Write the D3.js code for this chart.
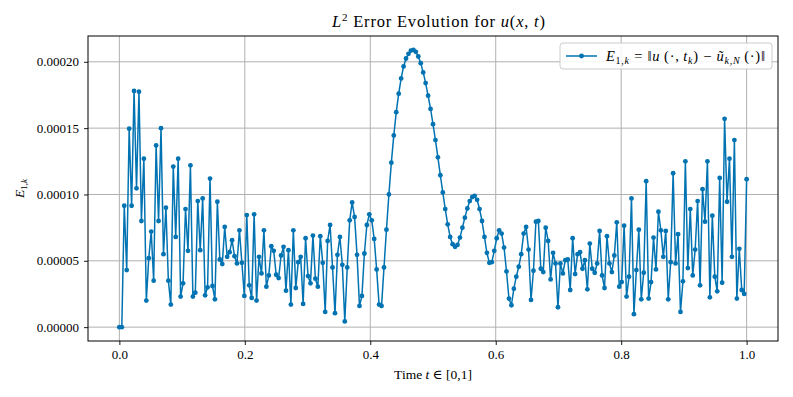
<!DOCTYPE html>
<html>
<head>
<meta charset="utf-8">
<script src="https://cdn.jsdelivr.net/npm/d3@7"></script>
<style>
  html, body { margin: 0; padding: 0; background: #fff; }
  svg text { font-family: "Liberation Serif", "DejaVu Serif", serif; fill: #000; }
</style>
</head>
<body>
<svg id="chart" width="793" height="397"></svg>
<script>
// ---- data (error values in units of 1e-5) ----
const errorE5 = [
  0, 0, 9.15, 4.3, 14.96, 9.15, 17.8, 10.46, 17.75, 8.0,
  12.7, 2.0, 5.2, 7.2, 3.5, 13.7, 8.0, 15.0, 5.5, 9.0,
  3.5, 1.7, 12.1, 6.8, 12.7, 2.3, 3.3, 8.9, 5.75, 12.2,
  2.3, 2.6, 9.5, 5.8, 9.7, 2.4, 3.0, 11.2, 3.1, 2.1,
  9.45, 5.1, 4.75, 7.55, 5.3, 5.65, 6.55, 5.35, 4.8, 7.3,
  4.85, 2.35, 8.45, 3.15, 2.2, 8.5, 2.0, 5.3, 4.05, 7.3,
  3.05, 3.9, 6.1, 5.75, 3.95, 3.7, 5.4, 6.05, 2.75, 5.8,
  1.7, 7.3, 2.95, 4.9, 5.3, 1.75, 6.7, 3.85, 3.3, 6.9,
  3.65, 3.05, 6.85, 4.85, 1.15, 6.5, 7.7, 4.5, 1.05, 5.45,
  6.8, 4.7, 0.43, 4.5, 8.05, 9.4, 8.3, 5.45, 1.6, 2.35,
  5.55, 7.7, 8.5, 8.05, 6.65, 4.35, 1.7, 1.6, 4.5, 7.35,
  10.0, 12.4, 14.45, 16.2, 17.6, 18.75, 19.65, 20.25, 20.6, 20.85,
  20.9, 20.75, 20.4, 19.9, 19.2, 18.4, 17.45, 16.45, 15.3, 14.1,
  12.8, 11.45, 10.15, 8.9, 7.75, 6.8, 6.25, 6.05, 6.2, 6.75,
  7.5, 8.25, 8.95, 9.5, 9.8, 9.9, 9.6, 8.9, 8.0, 6.8,
  5.6, 4.85, 4.9, 5.75, 6.7, 7.3, 7.05, 6.0, 4.2, 2.15,
  1.65, 2.9, 3.8, 4.55, 5.5, 7.05, 7.55, 5.85, 2.05, 4.25,
  7.95, 8.0, 4.4, 4.15, 7.5, 6.5, 3.6, 5.6, 4.8, 1.5,
  4.8, 4.05, 5.05, 5.1, 2.8, 6.7, 4.0, 5.5, 5.65, 4.4,
  5.05, 2.85, 6.3, 4.4, 4.1, 4.8, 7.25, 3.9, 2.95, 6.85,
  4.8, 4.15, 5.4, 7.9, 3.05, 3.4, 7.65, 2.3, 3.8, 9.7,
  0.98, 4.3, 7.35, 2.1, 4.1, 11.0, 2.15, 3.4, 6.75, 4.35,
  8.7, 7.3, 5.3, 7.25, 2.1, 4.9, 11.6, 4.8, 7.0, 1.15,
  3.45, 12.5, 4.45, 8.9, 3.9, 5.85, 9.5, 3.15, 10.4, 7.95,
  12.5, 2.25, 8.4, 3.8, 2.7, 11.25, 3.35, 15.7, 9.45, 12.7,
  5.3, 14.1, 2.15, 5.9, 2.8, 2.5, 11.15
];
const numSteps = 256;                 // t_k = k / 256, k = 0..256
const xTicks = [0.0, 0.2, 0.4, 0.6, 0.8, 1.0];
const xTickLabels = ["0.0", "0.2", "0.4", "0.6", "0.8", "1.0"];
const yTicks = [0, 0.00005, 0.0001, 0.00015, 0.0002];
const yTickLabels = ["0.00000", "0.00005", "0.00010", "0.00015", "0.00020"];

const points = errorE5.map((v, k) => ({ t: k / numSteps, e: v * 1e-5 }));

// ---- layout ----
const svg = d3.select("#chart");
const plot = { left: 88, right: 778, top: 36, bottom: 341 };
const color = "#0173b2";
const serif = '"Liberation Serif", "DejaVu Serif", serif';

const eMax = d3.max(points, d => d.e);
const yPad = eMax * 0.05;
const x = d3.scaleLinear().domain([-0.05, 1.05]).range([plot.left, plot.right]);
const y = d3.scaleLinear().domain([-yPad, eMax + yPad]).range([plot.bottom, plot.top]);

// grid
const grid = svg.append("g");
grid.selectAll("line.gx").data(xTicks).join("line")
  .attr("x1", d => x(d)).attr("x2", d => x(d))
  .attr("y1", plot.top).attr("y2", plot.bottom)
  .attr("stroke", "#b0b0b0").attr("stroke-width", 1);
grid.selectAll("line.gy").data(yTicks).join("line")
  .attr("y1", d => y(d)).attr("y2", d => y(d))
  .attr("x1", plot.left).attr("x2", plot.right)
  .attr("stroke", "#b0b0b0").attr("stroke-width", 1);

// axes
const xAxis = d3.axisBottom(x).tickValues(xTicks)
  .tickFormat((d, i) => xTickLabels[i]).tickSize(4).tickPadding(5);
const yAxis = d3.axisLeft(y).tickValues(yTicks)
  .tickFormat((d, i) => yTickLabels[i]).tickSize(4).tickPadding(5);

const gx = svg.append("g").attr("transform", `translate(0,${plot.bottom})`).call(xAxis);
const gy = svg.append("g").attr("transform", `translate(${plot.left},0)`).call(yAxis);
[gx, gy].forEach(g => {
  g.attr("font-family", serif);
  g.select(".domain").remove();
  g.selectAll(".tick line").attr("stroke", "#000").attr("stroke-width", 0.9);
  g.selectAll(".tick text").attr("font-size", 13)
    .style("font-family", serif).attr("fill", "#000");
});

// series
const line = d3.line().x(d => x(d.t)).y(d => y(d.e));
svg.append("path").datum(points)
  .attr("d", line).attr("fill", "none")
  .attr("stroke", color).attr("stroke-width", 1.5).attr("stroke-linejoin", "round");
svg.append("g").selectAll("circle").data(points).join("circle")
  .attr("cx", d => x(d.t)).attr("cy", d => y(d.e)).attr("r", 2.4)
  .attr("fill", color);

// frame
svg.append("rect")
  .attr("x", plot.left).attr("y", plot.top)
  .attr("width", plot.right - plot.left).attr("height", plot.bottom - plot.top)
  .attr("fill", "none").attr("stroke", "#000").attr("stroke-width", 1);

// title
const title = svg.append("text").attr("x", 332).attr("y", 27)
  .attr("font-size", 16.5).attr("textLength", 213).attr("lengthAdjust", "spacing");
title.append("tspan").attr("font-style", "italic").text("L");
title.append("tspan").attr("font-size", 11).attr("dy", -6).text("2");
title.append("tspan").attr("dy", 6).text(" Error Evolution for ");
title.append("tspan").attr("font-style", "italic").text("u");
title.append("tspan").text("(");
title.append("tspan").attr("font-style", "italic").text("x");
title.append("tspan").text(", ");
title.append("tspan").attr("font-style", "italic").text("t");
title.append("tspan").text(")");

// x label
const xl = svg.append("text").attr("x", (plot.left + plot.right) / 2).attr("y", 379)
  .attr("text-anchor", "middle").attr("font-size", 13.5);
xl.append("tspan").text("Time ");
xl.append("tspan").attr("font-style", "italic").text("t");
xl.append("tspan").text(" \u2208 [0,1]");

// y label
const yl = svg.append("text")
  .attr("transform", `translate(24,${(plot.top + plot.bottom) / 2}) rotate(-90)`)
  .attr("text-anchor", "middle").attr("font-size", 13.5);
yl.append("tspan").attr("font-style", "italic").text("E");
yl.append("tspan").attr("font-size", 9).attr("dy", 3).text("1,");
yl.append("tspan").attr("font-size", 9).attr("font-style", "italic").text("k");

// legend
const lg = svg.append("g");
lg.append("rect").attr("x", 560).attr("y", 43).attr("width", 212).attr("height", 26)
  .attr("rx", 3).attr("fill", "#fff").attr("fill-opacity", 0.85)
  .attr("stroke", "#cccccc").attr("stroke-width", 1);
lg.append("line").attr("x1", 566).attr("x2", 597).attr("y1", 56).attr("y2", 56)
  .attr("stroke", color).attr("stroke-width", 1.5);
lg.append("circle").attr("cx", 581.5).attr("cy", 56).attr("r", 2.4).attr("fill", color);
const lt = lg.append("text").attr("x", 606).attr("y", 61).attr("font-size", 14.5)
  .attr("textLength", 159).attr("lengthAdjust", "spacing");
lt.append("tspan").attr("font-style", "italic").text("E");
lt.append("tspan").attr("font-size", 10).attr("dy", 3).text("1,");
lt.append("tspan").attr("font-size", 10).attr("font-style", "italic").text("k");
lt.append("tspan").attr("dy", -3).text(" = \u2016");
lt.append("tspan").attr("font-style", "italic").text("u");
lt.append("tspan").text("\u2009(\u00b7,\u2009");
lt.append("tspan").attr("font-style", "italic").text("t");
lt.append("tspan").attr("font-size", 10).attr("font-style", "italic").attr("dy", 3).text("k");
lt.append("tspan").attr("dy", -3).text(") \u2212 ");
lt.append("tspan").attr("font-style", "italic").text("\u0169");
lt.append("tspan").attr("font-size", 10).attr("font-style", "italic").attr("dy", 3).text("k");
lt.append("tspan").attr("font-size", 10).text(",");
lt.append("tspan").attr("font-size", 10).attr("font-style", "italic").text("N");
lt.append("tspan").attr("dy", -3).text("\u2009(\u00b7)\u2016");
</script>
</body>
</html>
